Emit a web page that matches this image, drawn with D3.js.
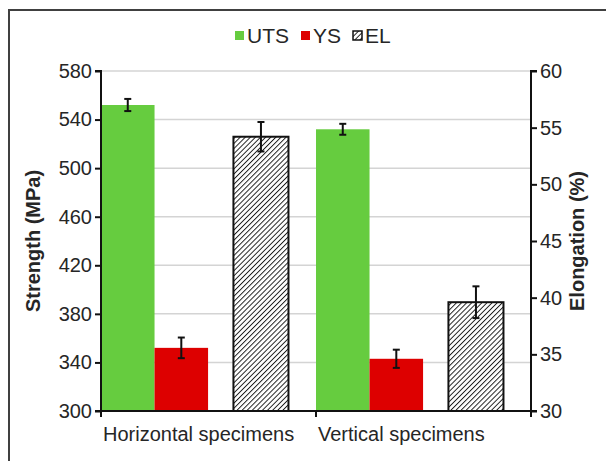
<!DOCTYPE html>
<html>
<head>
<meta charset="utf-8">
<script src="https://cdn.jsdelivr.net/npm/d3@7"></script>
<style>
  html, body { margin: 0; padding: 0; background: #fff; }
  svg { display: block; }
  text { font-family: "Liberation Sans", Arial, sans-serif; fill: #262626; }
</style>
</head>
<body>
<svg id="chart" width="606" height="461"></svg>
<script>
// Tensile results for the two build orientations
const categories = ["Horizontal specimens", "Vertical specimens"];
const utsValues = [552, 532];      // MPa
const utsErrors = [5, 4.5];
const ysValues = [352, 343];       // MPa
const ysErrors = [8.5, 7.5];
const elValues = [54.2, 39.6];     // %
const elErrors = [1.3, 1.4];

const strengthTicks = [300, 340, 380, 420, 460, 500, 540, 580];
const elongationTicks = [30, 35, 40, 45, 50, 55, 60];

const seriesNames = ["UTS", "YS", "EL"];
const colors = { UTS: "#66CC3F", YS: "#DD0000" };

const svg = d3.select("#chart");

// outer frame
svg.append("rect")
  .attr("x", 9).attr("y", 10)
  .attr("width", 620).attr("height", 470)
  .attr("fill", "none")
  .attr("stroke", "#404040")
  .attr("stroke-width", 2);

// hatch pattern for elongation bars
const defs = svg.append("defs");
const hs = 3.6;
const pat = defs.append("pattern")
  .attr("id", "hatch")
  .attr("patternUnits", "userSpaceOnUse")
  .attr("width", hs).attr("height", hs)
  .attr("patternTransform", "rotate(45)");
pat.append("rect").attr("width", hs).attr("height", hs).attr("fill", "#fff");
pat.append("line")
  .attr("x1", 0).attr("y1", 0).attr("x2", 0).attr("y2", hs)
  .attr("stroke", "#1a1a1a").attr("stroke-width", 1.9);

const plot = { left: 101, right: 531, top: 71, bottom: 411 };

const x = d3.scaleBand().domain(categories).range([plot.left, plot.right]).padding(0);
const yL = d3.scaleLinear().domain([300, 580]).range([plot.bottom, plot.top]);
const yR = d3.scaleLinear().domain([30, 60]).range([plot.bottom, plot.top]);
const bw = x.bandwidth();

// bar slots within each category (fractions of the band)
const slot = {
  UTS: [0.0, 0.249],
  YS: [0.249, 0.498],
  EL: [0.616, 0.872]
};

// gridlines
svg.append("g")
  .selectAll("line")
  .data(strengthTicks.slice(1))
  .join("line")
  .attr("x1", plot.left).attr("x2", plot.right)
  .attr("y1", d => yL(d)).attr("y2", d => yL(d))
  .attr("stroke", "#d4d4d4").attr("stroke-width", 1.5);

const rows = categories.map((c, i) => ({
  cat: c,
  uts: utsValues[i], utsErr: utsErrors[i],
  ys: ysValues[i], ysErr: ysErrors[i],
  el: elValues[i], elErr: elErrors[i]
}));

// UTS bars
svg.append("g").selectAll("rect").data(rows).join("rect")
  .attr("x", d => x(d.cat) + slot.UTS[0] * bw)
  .attr("width", (slot.UTS[1] - slot.UTS[0]) * bw)
  .attr("y", d => yL(d.uts))
  .attr("height", d => yL(300) - yL(d.uts))
  .attr("fill", colors.UTS);

// YS bars
svg.append("g").selectAll("rect").data(rows).join("rect")
  .attr("x", d => x(d.cat) + slot.YS[0] * bw)
  .attr("width", (slot.YS[1] - slot.YS[0]) * bw)
  .attr("y", d => yL(d.ys))
  .attr("height", d => yL(300) - yL(d.ys))
  .attr("fill", colors.YS);

// EL bars (secondary axis)
svg.append("g").selectAll("rect").data(rows).join("rect")
  .attr("x", d => x(d.cat) + slot.EL[0] * bw)
  .attr("width", (slot.EL[1] - slot.EL[0]) * bw)
  .attr("y", d => yR(d.el))
  .attr("height", d => yR(30) - yR(d.el))
  .attr("fill", "url(#hatch)")
  .attr("stroke", "#111").attr("stroke-width", 2);

// error bars
function errorBars(key, errKey, scale, s) {
  const g = svg.append("g").attr("stroke", "#111").attr("stroke-width", 2);
  rows.forEach(d => {
    const cx = x(d.cat) + (s[0] + s[1]) / 2 * bw;
    const hi = scale(d[key] + d[errKey]);
    const lo = scale(d[key] - d[errKey]);
    g.append("line").attr("x1", cx).attr("x2", cx).attr("y1", hi).attr("y2", lo);
    g.append("line").attr("x1", cx - 3.5).attr("x2", cx + 3.5).attr("y1", hi).attr("y2", hi);
    g.append("line").attr("x1", cx - 3.5).attr("x2", cx + 3.5).attr("y1", lo).attr("y2", lo);
  });
}
errorBars("uts", "utsErr", yL, slot.UTS);
errorBars("ys", "ysErr", yL, slot.YS);
errorBars("el", "elErr", yR, slot.EL);

// axes
const leftAxis = svg.append("g")
  .attr("transform", `translate(${plot.left},0)`)
  .call(d3.axisLeft(yL).tickValues(strengthTicks).tickSize(6).tickPadding(3));
const rightAxis = svg.append("g")
  .attr("transform", `translate(${plot.right},0)`)
  .call(d3.axisRight(yR).tickValues(elongationTicks).tickSize(6).tickPadding(3));
const bottomAxis = svg.append("g")
  .attr("transform", `translate(0,${plot.bottom})`)
  .call(d3.axisBottom(x).tickSize(0).tickPadding(16));

[leftAxis, rightAxis, bottomAxis].forEach(a => {
  a.select(".domain").attr("stroke", "#111").attr("stroke-width", 2);
  a.selectAll(".tick line").attr("stroke", "#111").attr("stroke-width", 2);
  a.selectAll("text")
    .style("font-family", "'Liberation Sans', Arial, sans-serif")
    .style("font-size", "20px")
    .attr("fill", "#262626");
});
leftAxis.select(".domain").attr("d", `M-6,${plot.bottom}H0V${plot.top}H-6`);
rightAxis.select(".domain").attr("d", `M6,${plot.bottom}H0V${plot.top}H6`);
bottomAxis.select(".domain").attr("d", `M${plot.left},0H${plot.right}`);
// category labels sit at the start of each band
bottomAxis.selectAll(".tick text")
  .attr("text-anchor", "start")
  .attr("x", -bw / 2 + 2);

// category boundary ticks on the x axis
svg.append("g").attr("stroke", "#111").attr("stroke-width", 2)
  .selectAll("line")
  .data([plot.left, x(categories[1]), plot.right])
  .join("line")
  .attr("x1", d => d).attr("x2", d => d)
  .attr("y1", plot.bottom).attr("y2", plot.bottom + 6);

// axis titles
svg.append("text")
  .attr("transform", `translate(40,${(plot.top + plot.bottom) / 2}) rotate(-90)`)
  .attr("text-anchor", "middle")
  .style("font-size", "20px").style("font-weight", "bold")
  .text("Strength (MPa)");
svg.append("text")
  .attr("transform", `translate(584,${(plot.top + plot.bottom) / 2}) rotate(-90)`)
  .attr("text-anchor", "middle")
  .style("font-size", "20px").style("font-weight", "bold")
  .text("Elongation (%)");

// legend
const legend = svg.append("g").attr("transform", "translate(235,36)");
const legendX = [0, 66, 118];
seriesNames.forEach((name, i) => {
  const g = legend.append("g").attr("transform", `translate(${legendX[i]},0)`);
  g.append("rect")
    .attr("x", 0).attr("y", -5).attr("width", 9).attr("height", 9)
    .attr("fill", name === "EL" ? "url(#hatch)" : colors[name])
    .attr("stroke", name === "EL" ? "#111" : "none")
    .attr("stroke-width", 1.5);
  g.append("text")
    .attr("x", 12).attr("y", 7)
    .style("font-size", "21px")
    .text(name);
});
</script>
</body>
</html>
